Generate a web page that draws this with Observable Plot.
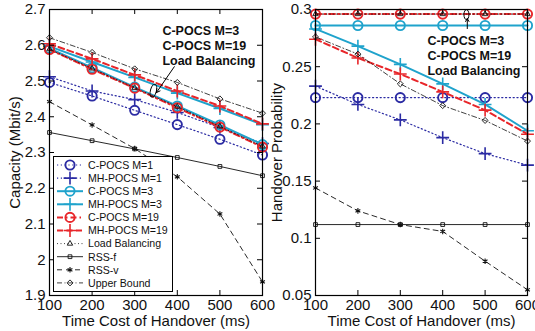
<!DOCTYPE html>
<html>
<head>
<meta charset="utf-8">
<script src="https://cdn.jsdelivr.net/npm/d3@7"></script>
<script src="https://cdn.jsdelivr.net/npm/@observablehq/plot@0.6"></script>
<style>
  body { margin: 0; background: #fff; }
  #wrap { position: relative; width: 535px; height: 331px; overflow: hidden; font-family: "Liberation Sans", Arial, sans-serif; }
  #wrap > svg, #wrap > div { position: absolute; top: 0; }
</style>
</head>
<body>
<div id="wrap"></div>
<script>
// ---------- data ----------
const xs = [100, 200, 300, 400, 500, 600];
const seriesNames = ["C-POCS M=1", "MH-POCS M=1", "C-POCS M=3", "MH-POCS M=3", "C-POCS M=19",
  "MH-POCS M=19", "Load Balancing", "RSS-f", "RSS-v", "Upper Bound"];

// Capacity (Mbit/s)
const capCPOCS1  = [2.496, 2.458, 2.418, 2.378, 2.337, 2.293];
const capMHPOCS1 = [2.512, 2.472, 2.448, 2.412, 2.370, 2.325];
const capCPOCS3  = [2.591, 2.537, 2.483, 2.430, 2.377, 2.322];
const capMHPOCS3 = [2.597, 2.553, 2.510, 2.466, 2.423, 2.378];
const capCPOCS19 = [2.588, 2.533, 2.480, 2.425, 2.371, 2.315];
const capMHPOCS19= [2.604, 2.562, 2.517, 2.472, 2.430, 2.380];
const capLB      = [2.589, 2.535, 2.481, 2.428, 2.373, 2.317];
const capRSSf    = [2.356, 2.333, 2.310, 2.286, 2.261, 2.235];
const capRSSv    = [2.442, 2.377, 2.311, 2.232, 2.128, 1.938];
const capUB      = [2.621, 2.580, 2.534, 2.496, 2.450, 2.410];

// Handover probability
const hoCPOCS1  = [0.223, 0.223, 0.223, 0.223, 0.223, 0.223];
const hoMHPOCS1 = [0.233, 0.217, 0.2035, 0.188, 0.174, 0.164];
const hoCPOCS3  = [0.286, 0.286, 0.286, 0.286, 0.286, 0.286];
const hoMHPOCS3 = [0.283, 0.268, 0.252, 0.235, 0.217, 0.194];
const hoCPOCS19 = [0.296, 0.296, 0.296, 0.296, 0.296, 0.296];
const hoMHPOCS19= [0.274, 0.2576, 0.2436, 0.228, 0.212, 0.191];
const hoLB      = [0.296, 0.296, 0.296, 0.296, 0.296, 0.296];
const hoRSSf    = [0.112, 0.112, 0.112, 0.112, 0.112, 0.112];
const hoRSSv    = [0.144, 0.124, 0.112, 0.106, 0.080, 0.055];
const hoUB      = [0.276, 0.261, 0.235, 0.216, 0.203, 0.185];

const capTicks = [1.9, 2, 2.1, 2.2, 2.3, 2.4, 2.5, 2.6, 2.7];
const hoTicks = [0.05, 0.1, 0.15, 0.2, 0.25, 0.3];
const xTicks = [100, 200, 300, 400, 500, 600];

const annoText = "C-POCS M=3\nC-POCS M=19\nLoad Balancing";
const leftAnno = {tx: 365, ty: 2.635, ax1: 393, ay1: 2.540, ax2: 351, ay2: 2.4675, ex: 344, ey: 2.473};
const rightAnno = {tx: 364, ty: 0.2715, ax1: 458, ay1: 0.2833, ax2: 458, ay2: 0.2921, ex: 456, ey: 0.2955};

// ---------- styles ----------
const BLUE = "#2b2ba3", CYAN = "#1fa3cc", RED = "#e8262a", BLACK = "#111";
const styles = [
  {color: BLUE, dash: "1.2,2.6", lw: 1.2, symbol: "circle", r: 4.6, sw: 1.9},
  {color: BLUE, dash: "1.2,2.6", lw: 1.2, symbol: "plus", r: 4.2, sw: 1.6},
  {color: CYAN, dash: null, lw: 2, symbol: "circle", r: 4.6, sw: 1.9},
  {color: CYAN, dash: null, lw: 2, symbol: "plus", r: 4.2, sw: 1.6},
  {color: RED, dash: "6,3,1.5,3", lw: 2, symbol: "circle", r: 4.6, sw: 1.9},
  {color: RED, dash: "6,3.5", lw: 2, symbol: "plus", r: 4.2, sw: 1.6},
  {color: BLACK, dash: "1,2.5", lw: 0.8, symbol: "triangle2", r: 2.6, sw: 0.9},
  {color: BLACK, dash: null, lw: 0.9, symbol: "square2", r: 2.4, sw: 0.9},
  {color: BLACK, dash: "5,4", lw: 0.9, symbol: "asterisk", r: 2.6, sw: 1.1},
  {color: BLACK, dash: "5,2.5,1,2.5", lw: 0.8, symbol: "diamond2", r: 2.7, sw: 0.9}
];

const capSeries = [capCPOCS1, capMHPOCS1, capCPOCS3, capMHPOCS3, capCPOCS19, capMHPOCS19, capLB, capRSSf, capRSSv, capUB];
const hoSeries = [hoCPOCS1, hoMHPOCS1, hoCPOCS3, hoMHPOCS3, hoCPOCS19, hoMHPOCS19, hoLB, hoRSSf, hoRSSv, hoUB];

const FONT = "'Liberation Sans', Arial, Helvetica, sans-serif";

const ellipseSymbol = (rx, ry) => ({
  draw(ctx) {
    const k = 0.5523;
    ctx.moveTo(rx, 0);
    ctx.bezierCurveTo(rx, ry * k, rx * k, ry, 0, ry);
    ctx.bezierCurveTo(-rx * k, ry, -rx, ry * k, -rx, 0);
    ctx.bezierCurveTo(-rx, -ry * k, -rx * k, -ry, 0, -ry);
    ctx.bezierCurveTo(rx * k, -ry, rx, -ry * k, rx, 0);
    ctx.closePath();
  }
});

function seriesMarks(allSeries) {
  const marks = [];
  allSeries.forEach((vals, i) => {
    const st = styles[i];
    const rows = xs.map((x, j) => ({x, y: vals[j]}));
    marks.push(Plot.line(rows, {x: "x", y: "y", stroke: st.color, strokeWidth: st.lw,
      strokeDasharray: st.dash || undefined}));
    marks.push(Plot.dot(rows, {x: "x", y: "y", stroke: st.color, symbol: st.symbol, r: st.r,
      strokeWidth: st.sw, fill: st.symbol === "asterisk" ? st.color : "none"}));
  });
  return marks;
}

function panel({width, marginLeft, marginRight, yDomain, yTicks, yLabel, yLabelOffset, allSeries, anno, ellipse}) {
  const marginTop = 9, marginBottom = 36, height = 331;
  const fw = width - marginLeft - marginRight;
  const fh = height - marginTop - marginBottom;
  return Plot.plot({
    width, height, marginLeft, marginRight, marginTop, marginBottom,
    style: {fontFamily: FONT, fontSize: "15px", color: "#111", background: "transparent", overflow: "visible"},
    x: {domain: [100, 600]},
    y: {domain: yDomain},
    marks: [
      ...seriesMarks(allSeries),
      // inward tick marks on all four sides
      Plot.tickY(yTicks, {y: d => d, insetRight: fw - 5, stroke: "#000"}),
      Plot.tickY(yTicks, {y: d => d, insetLeft: fw - 5, stroke: "#000"}),
      Plot.tickX(xTicks, {x: d => d, insetTop: fh - 5, stroke: "#000"}),
      Plot.tickX(xTicks, {x: d => d, insetBottom: fh - 5, stroke: "#000"}),
      Plot.frame({stroke: "#000", strokeWidth: 1.2}),
      Plot.axisY(yTicks, {tickSize: 0, tickPadding: 4, tickFormat: d3.format("~g"),
        label: yLabel, labelAnchor: "center", labelArrow: "none", labelOffset: yLabelOffset, fontSize: 15}),
      Plot.axisX(xTicks, {tickSize: 0, tickPadding: 4, tickFormat: d3.format("d"),
        label: "Time Cost of Handover (ms)", labelAnchor: "center", labelArrow: "none", labelOffset: 30, fontSize: 15}),
      // annotation
      Plot.arrow([anno], {x1: "ax1", y1: "ay1", x2: "ax2", y2: "ay2", stroke: "#000", strokeWidth: 1, headLength: 6, bend: 0}),
      Plot.dot([anno], {x: "ex", y: "ey", symbol: ellipseSymbol(ellipse[0], ellipse[1]), r: 3, stroke: "#000", strokeWidth: 1, fill: "none", rotate: ellipse[2]}),
      Plot.text([anno], {x: "tx", y: "ty", text: () => annoText, textAnchor: "start", lineAnchor: "top",
        lineHeight: 1.2, fontSize: 12.5, fontWeight: "bold", fill: "#111", dy: -8})
    ]
  });
}

const wrap = document.getElementById("wrap");

const left = panel({width: 268, marginLeft: 49, marginRight: 6, yDomain: [1.9, 2.7], yTicks: capTicks,
  yLabel: "Capacity (Mbit/s)", yLabelOffset: 40, allSeries: capSeries, anno: leftAnno, ellipse: [3, 6.5, 15]});
left.style.left = "0px";
wrap.appendChild(left);

const right = panel({width: 267, marginLeft: 47, marginRight: 8, yDomain: [0.05, 0.3], yTicks: hoTicks,
  yLabel: "Handover Probability", yLabelOffset: 44, allSeries: hoSeries, anno: rightAnno, ellipse: [2.5, 5, 0]});
right.style.left = "268px";
wrap.appendChild(right);

// ---------- legend (drawn with d3 over the left panel) ----------
const lg = d3.select(wrap).append("svg")
  .attr("width", 535).attr("height", 331)
  .style("left", "0px").style("pointer-events", "none")
  .style("font-family", FONT);
lg.append("rect").attr("x", 53.5).attr("y", 156.5).attr("width", 119).attr("height", 135)
  .attr("fill", "#fff").attr("stroke", "#000").attr("stroke-width", 1);
const symMap = {circle: d3.symbolCircle, plus: d3.symbolPlus, triangle2: d3.symbolTriangle2,
  square2: d3.symbolSquare2, asterisk: d3.symbolAsterisk, diamond2: d3.symbolDiamond2};
seriesNames.forEach((name, i) => {
  const st = styles[i];
  const y = 165 + i * 13.1;
  const g = lg.append("g");
  g.append("line").attr("x1", 57).attr("x2", 83).attr("y1", y).attr("y2", y)
    .attr("stroke", st.color).attr("stroke-width", st.lw)
    .attr("stroke-dasharray", st.dash || null);
  g.append("path").attr("transform", `translate(70,${y})`)
    .attr("d", d3.symbol(symMap[st.symbol], Math.PI * st.r * st.r)())
    .attr("stroke", st.color).attr("stroke-width", st.sw)
    .attr("fill", st.symbol === "asterisk" ? st.color : "none");
  g.append("text").attr("x", 88).attr("y", y).attr("dy", "0.36em")
    .attr("font-size", 10.6).attr("fill", "#111").text(name);
});
</script>
</body>
</html>
